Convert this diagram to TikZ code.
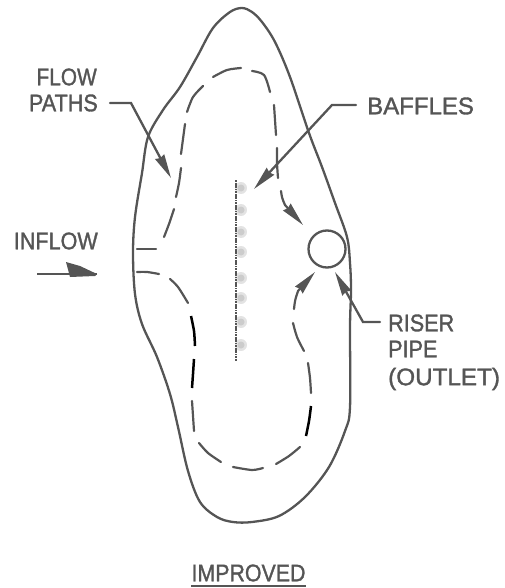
\documentclass[tikz,border=0pt]{standalone}
\usepackage{fontspec}
\setmainfont{Liberation Sans}
\newfontfamily\labfont{Liberation Sans}[FakeBold=1.4]
\usetikzlibrary{arrows.meta}
\definecolor{ink}{HTML}{555555}
\newcommand{\hx}[2]{\scalebox{#1}[1]{#2}}
\tikzset{
  x=1pt,y=-1pt,
  lab/.style={inner sep=0pt,text=ink,font=\labfont\fontsize{24}{24}\selectfont},
  line/.style={draw=ink,line width=2.3pt,line cap=round},
  dashpart/.style={line,line width=2.2pt},
  blackpart/.style={draw=black,line width=2.5pt,line cap=butt},
  tip/.style={-{Stealth[length=24pt,width=10pt,inset=1.5pt,fill=ink]}},
  blobo/.style={circle,fill=black!11,draw=none,minimum size=12pt,inner sep=0pt},
  blobi/.style={circle,fill=black!20,draw=none,minimum size=7pt,inner sep=0pt},
}
\begin{document}
\begin{tikzpicture}
\useasboundingbox (0,0) rectangle (504,588);
% basin outline
\draw[line] plot[smooth cycle,tension=0.55] coordinates {
 (242,8) (230,12) (213,28) (197,57) (180,87) (163,110) (148,137) (142,173) (135,217) (133,253) (135,294)
 (142,324) (157,357) (170,394) (178,427) (188,471) (200,502) (217,517) (233,522) (252,522)
 (279,516) (305,497) (329,467) (345,431) (350,407) (350,327) (351,290) (350,263) (347,237)
 (335,203) (322,167) (309,133) (290,77) (275,42) (262,22) (252,12)};
% riser pipe
\node[circle,draw=ink,line width=2.3pt,minimum size=37pt,inner sep=0pt] (riser) at (327,249) {};
% flow path dashes
\draw[dashpart] plot[smooth] coordinates {(213,77) (227,70) (241,68)};
\draw[dashpart] plot[smooth] coordinates {(187,112) (193,97) (203,86)};
\draw[dashpart] plot[smooth] coordinates {(185,124) (183,139) (181,154)};
\draw[dashpart] plot[smooth] coordinates {(181,168) (179,183) (176,197)};
\draw[dashpart] plot[smooth] coordinates {(174,209) (169,224) (164,237)};
\draw[dashpart] (137,249) -- (156,249);
\draw[dashpart] plot[smooth] coordinates {(137,272) (147,272) (159,274)};
\draw[dashpart] plot[smooth] coordinates {(170,279) (178,287) (188,303)};
\draw[blackpart] plot[smooth] coordinates {(191,316) (194,331) (195,346)};
\draw[blackpart] plot[smooth] coordinates {(194,359) (193,374) (192,388)};
\draw[dashpart] plot[smooth] coordinates {(192,401) (193,416) (194,431)};
\draw[dashpart] plot[smooth] coordinates {(199,443) (208,453) (221,462)};
\draw[dashpart] plot[smooth] coordinates {(233,467) (252,470) (263,468)};
\draw[dashpart] plot[smooth] coordinates {(276,464) (289,456) (300,447)};
\draw[blackpart] plot[smooth] coordinates {(311,406) (309,421) (306,436)};
\draw[dashpart] plot[smooth] coordinates {(308,363) (310,378) (311,393)};
\draw[dashpart] plot[smooth] coordinates {(293,323) (297,337) (304,351)};
\draw[dashpart] plot[smooth] coordinates {(252,71) (264,75) (270,92)};
\draw[dashpart] plot[smooth] coordinates {(274,105) (275,120) (276,135)};
\draw[dashpart] plot[smooth] coordinates {(277,148) (277,163) (278,178)};
% arrowed flow dashes
\coordinate (inA) at (281,191);
\coordinate (inB) at (285,205);
\coordinate (outA) at (294,309);
\coordinate (outB) at (298,291);
\draw[dashpart] (inA) .. controls (282,198) .. (inB);
\draw[dashpart] (outA) .. controls (295,300) .. (outB);
\draw[dashpart,tip] (inB) -- (303,225);
\draw[dashpart,tip] (outB) -- (315,272);
% baffles
\foreach \yy in {188,210,232,252,278,298,322,345}{
  \node[blobo] at (241,\yy) {};
  \node[blobi] at (241,\yy) {};
}
\draw[draw=ink,line width=1.5pt,dash pattern=on 2pt off 0.8pt on 5pt off 1.2pt on 1pt off 1pt] (236,180) -- (236,361);
% labels
\node[lab,anchor=east] (flow) at (97,77) {\hx{0.87}{FLOW}};
\node[lab,anchor=east] (paths) at (98,103) {\hx{0.9}{PATHS}};
\node[lab,anchor=west] (baffles) at (367,106) {\hx{1.0}{BAFFLES}};
\node[lab,anchor=east] (inflow) at (98,241) {\hx{0.9}{INFLOW}};
\node[lab,anchor=west] (riserl) at (388,323) {\hx{0.9}{RISER}};
\node[lab,anchor=west] (pipel) at (388,349) {\hx{0.9}{PIPE}};
\node[lab,anchor=west] (outlet) at (388,379) {\hx{1.01}{(OUTLET)}};
\node[lab,anchor=center] (improved) at (248.5,573) {\hx{0.89}{IMPROVED}};
\draw[line,line cap=butt] (improved.west |- 0,586) -- (improved.east |- 0,586);
% leaders
\coordinate (pA) at (110,103);
\coordinate (pB) at (131,103);
\coordinate (pT) at (171,178);
\draw[line,line join=miter,tip] (pA) -- (pB) -- (pT);
\coordinate (bA) at (356,105);
\coordinate (bB) at (332,105);
\coordinate (bT) at (254,189);
\draw[line,tip] (bA) -- (bB) -- (bT);
\coordinate (rA) at (380,322);
\coordinate (rB) at (363,322);
\coordinate (rT) at (335,272);
\draw[line,tip] (rA) -- (rB) -- (rT);
% inflow arrow
\coordinate (iA) at (37,274);
\coordinate (iT) at (97,274);
\draw[line,line width=2.8pt,line cap=butt] (iA) -- (iT);
\fill[ink] (66,262) -- (80,266) -- (iT) -- (95,276) -- (70,277) -- cycle;
\end{tikzpicture}
\end{document}
